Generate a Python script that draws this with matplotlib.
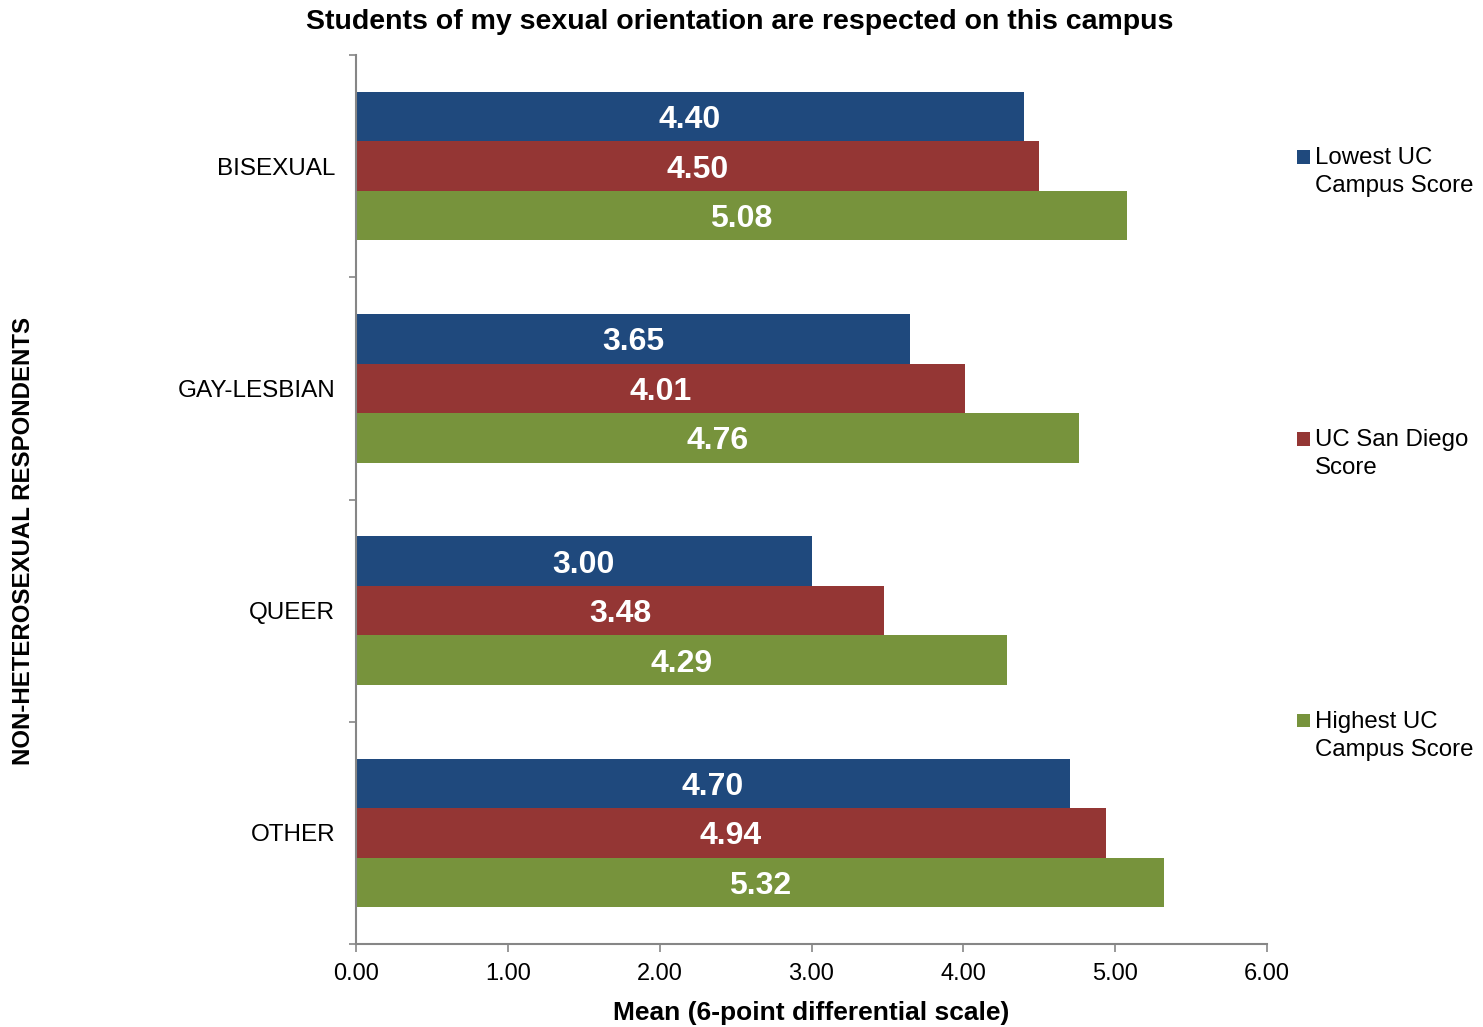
import matplotlib
matplotlib.use("Agg")
import matplotlib.pyplot as plt
import numpy as np
from matplotlib.patches import Rectangle
from matplotlib.legend_handler import HandlerBase

plt.rcParams['font.family'] = ['Liberation Sans', 'DejaVu Sans']

categories = ["BISEXUAL", "GAY-LESBIAN", "QUEER", "OTHER"]
series_names = ["Lowest UC\nCampus Score", "UC San Diego\nScore", "Highest UC\nCampus Score"]
lowest = [4.40, 3.65, 3.00, 4.70]
ucsd = [4.50, 4.01, 3.48, 4.94]
highest = [5.08, 4.76, 4.29, 5.32]
xticks = [0, 1, 2, 3, 4, 5, 6]
colors = ["#1F497D", "#943634", "#77933C"]


class TopSquareHandler(HandlerBase):
    """Draw the legend square level with the first line of a two-line label."""
    def create_artists(self, legend, orig_handle, xdescent, ydescent, width, height,
                       fontsize, trans):
        s = 0.55 * fontsize
        x0 = -xdescent + (width - s) / 2
        y_center = -ydescent + height / 2 + 0.62 * fontsize
        r = Rectangle((x0, y_center - s / 2), s, s, facecolor=orig_handle.get_facecolor(),
                      edgecolor="none", transform=trans)
        return [r]


fig = plt.figure(figsize=(14.83, 10.27), dpi=100)
W, H = 1483, 1027
ax = fig.add_axes([356 / W, 1 - 944 / H, (1267 - 356) / W, (944 - 55) / H])

n = len(categories)
y = np.arange(n)
bh = 0.223
series = [lowest, ucsd, highest]
containers = []
for i, (vals, c) in enumerate(zip(series, colors)):
    pos = y + (i - 1) * bh
    bc = ax.barh(pos, vals, height=bh, color=c, label=series_names[i], edgecolor="none")
    containers.append(bc)
    for p, v in zip(pos, vals):
        ax.text(v / 2, p, f"{v:.2f}", ha="center", va="center_baseline", color="white",
                fontsize=23, fontweight="bold")

ax.set_ylim(n - 0.5, -0.5)
ax.set_xlim(0, 6)
ax.set_xticks(xticks)
ax.set_xticklabels([f"{t:.2f}" for t in xticks], fontsize=17)
ax.set_yticks(y)
ax.set_yticklabels(categories, fontsize=17.5)
ax.tick_params(axis='y', length=0, pad=15)
ax.set_yticks(np.arange(n + 1) - 0.5, minor=True)
ax.tick_params(axis='y', which='minor', length=5, color="#868686", width=1.2)
ax.tick_params(axis='x', length=6, color="#868686", width=1.2, pad=8, direction='out')

for s in ["top", "right"]:
    ax.spines[s].set_visible(False)
for s in ["left", "bottom"]:
    ax.spines[s].set_color("#868686")
    ax.spines[s].set_linewidth(1.5)

ax.set_xlabel("Mean (6-point differential scale)", fontsize=19, fontweight="bold", labelpad=11)
fig.text(24 / W, 1 - 541 / H, "NON-HETEROSEXUAL RESPONDENTS", rotation=90,
         ha="center", va="center", fontsize=17.3, fontweight="bold")
fig.text(740 / W, 1 - 22 / H, "Students of my sexual orientation are respected on this campus",
         ha="center", va="center", fontsize=20.5, fontweight="bold")

handles = [bc.patches[0] for bc in containers]
leg = fig.legend(handles, series_names, loc="upper left",
                 bbox_to_anchor=(1297 / W, 1 - 147 / H), frameon=False,
                 fontsize=17.3, handlelength=0.55, handleheight=0.55, handletextpad=0.2,
                 labelspacing=9.65, borderaxespad=0, borderpad=0,
                 handler_map={h: TopSquareHandler() for h in handles})
for t in leg.get_texts():
    t.set_linespacing(1.35)

fig.savefig("out.png", dpi=100)
